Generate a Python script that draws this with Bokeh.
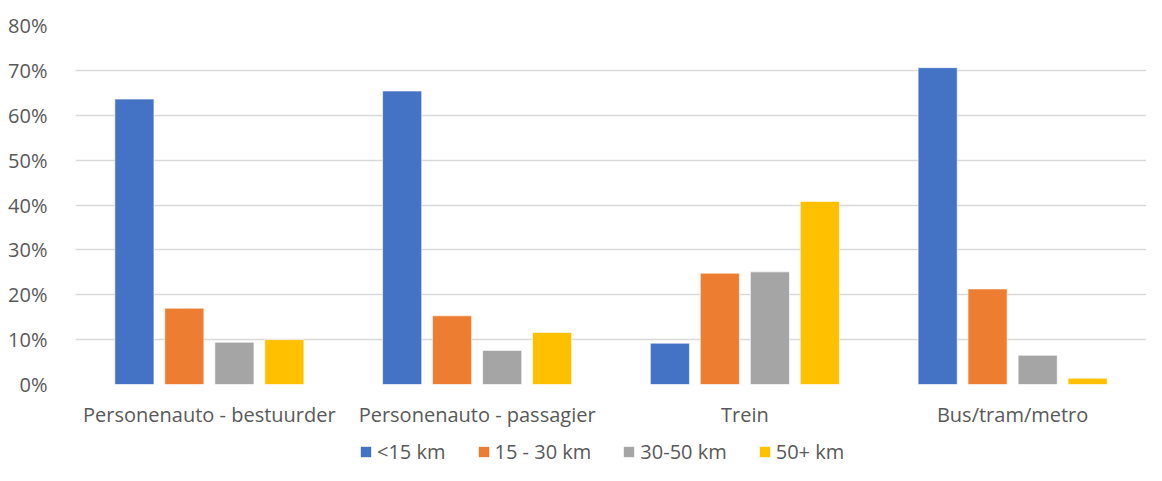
from bokeh.plotting import figure
from bokeh.models import ColumnDataSource, FactorRange, Legend, LegendItem, FixedTicker, NumeralTickFormatter
from bokeh.layouts import column
from bokeh.transform import dodge
from bokeh.embed import file_html
from bokeh.resources import INLINE

categories = ["Personenauto - bestuurder", "Personenauto - passagier", "Trein", "Bus/tram/metro"]
series_names = ["<15 km", "15 - 30 km", "30-50 km", "50+ km"]
lt15 = [0.636, 0.654, 0.092, 0.706]
km15_30 = [0.170, 0.153, 0.248, 0.213]
km30_50 = [0.094, 0.076, 0.251, 0.065]
km50p = [0.100, 0.116, 0.408, 0.014]
y_ticks = [0, 0.1, 0.2, 0.3, 0.4, 0.5, 0.6, 0.7, 0.8]
colors = ["#4472C4", "#ED7D31", "#A5A5A5", "#FFC000"]

FONT = "Open Sans"
TXT = "#595959"
W = 1146

source = ColumnDataSource(data=dict(cat=categories, s0=lt15, s1=km15_30, s2=km30_50, s3=km50p))

p = figure(x_range=FactorRange(*categories, range_padding=0), y_range=(0, 0.8),
           width=W, height=430, output_backend="svg", toolbar_location=None,
           min_border_left=75, min_border_right=0, min_border_top=25, min_border_bottom=41)

offsets = [-0.280, -0.0935, 0.0935, 0.280]
for i, key in enumerate(["s0", "s1", "s2", "s3"]):
    p.vbar(x=dodge("cat", offsets[i], range=p.x_range), top=key, width=0.146,
           source=source, fill_color=colors[i], line_color="white", line_width=1, line_alpha=0.6)

p.outline_line_color = None
p.xgrid.grid_line_color = None
p.ygrid.grid_line_color = "#D9D9D9"
p.ygrid.grid_line_width = 1.5

p.yaxis.ticker = FixedTicker(ticks=y_ticks)
p.yaxis.formatter = NumeralTickFormatter(format="0%")
p.yaxis.axis_line_color = None
p.yaxis.major_tick_line_color = None
p.yaxis.minor_tick_line_color = None
p.yaxis.major_label_standoff = 22
p.yaxis.major_label_text_font = FONT
p.yaxis.major_label_text_font_size = "20px"
p.yaxis.major_label_text_color = TXT

p.xaxis.axis_line_color = None
p.xaxis.major_tick_line_color = None
p.xaxis.minor_tick_line_color = None
p.xaxis.major_label_standoff = 10
p.xaxis.major_label_text_font = FONT
p.xaxis.major_label_text_font_size = "20px"
p.xaxis.major_label_text_color = TXT

# legend strip below the chart (one off-screen point per series so the legend swatch is drawn)
lg = figure(width=W, height=35, output_backend="svg", toolbar_location=None,
            x_axis_type=None, y_axis_type=None, x_range=(0, 1), y_range=(0, 1),
            min_border_left=0, min_border_right=0, min_border_top=0, min_border_bottom=0)
lg.outline_line_color = None
lg.grid.visible = False
swatch = ColumnDataSource(data=dict(x=[-5], top=[-5]))
lrs = [lg.vbar(x="x", top="top", width=0.1, source=swatch, fill_color=c, line_color=None) for c in colors]

legend = Legend(items=[LegendItem(label=series_names[i], renderers=[lrs[i]]) for i in range(4)],
                orientation="horizontal", location=(284, 0))
legend.glyph_width = 13
legend.glyph_height = 13
legend.label_standoff = 5
legend.spacing = 31
legend.padding = 0
legend.margin = 0
legend.border_line_color = None
legend.background_fill_alpha = 0
legend.label_text_font = FONT
legend.label_text_font_size = "20px"
legend.label_text_color = TXT
lg.add_layout(legend, "center")

layout = column(p, lg, spacing=0)
open("out.html", "w").write(file_html(layout, INLINE))
